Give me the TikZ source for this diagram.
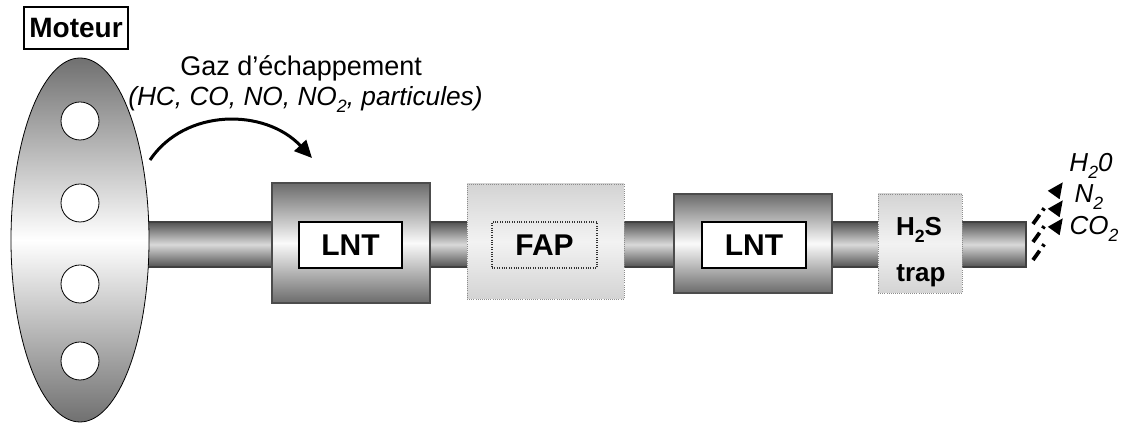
\documentclass[tikz,border=0pt]{standalone}
\usepackage{fontspec}
\usepackage{graphicx}
\setmainfont{Liberation Sans}
\usetikzlibrary{shapes.geometric,arrows.meta}
\newcommand\sbs[1]{\raisebox{-0.26em}{\scalebox{0.68}{#1}}}
\tikzset{
  pipe/.style={rectangle, inner sep=0pt, draw=black!75, line width=0.8pt,
    top color=black!68, bottom color=black!68, middle color=black!15},
  engine/.style={ellipse, inner sep=0pt, draw=black, line width=0.6pt,
    top color=black!56, bottom color=black!56, middle color=white},
  hole/.style={circle, inner sep=0pt, draw=black, line width=0.6pt, fill=white,
    minimum size=28.5pt},
  darkcat/.style={rectangle, inner sep=0pt, draw=black!70, line width=0.8pt,
    top color=black!58, bottom color=black!58, middle color=black!2},
  lightcat/.style={rectangle, inner sep=0pt, draw=black!45, densely dotted, line width=0.6pt,
    top color=black!17, bottom color=black!17, middle color=black!5},
  tag/.style={rectangle, inner sep=0pt, draw=black, line width=0.8pt, fill=white,
    font=\fontsize{22.5}{27}\selectfont\bfseries},
  dottag/.style={rectangle, inner sep=0pt, draw=black!80, densely dotted, line width=0.8pt,
    font=\fontsize{22.5}{27}\selectfont\bfseries},
  bigtxt/.style={inner sep=0pt, font=\fontsize{20.25}{24}\selectfont},
  outtxt/.style={inner sep=0pt, anchor=base, font=\fontsize{19.5}{23}\selectfont\itshape},
  trtxt/.style={inner sep=0pt, anchor=base, font=\fontsize{19.5}{23}\selectfont\bfseries},
  flow/.style={line width=2.25pt, -{Triangle[length=13pt,width=12pt]}},
  outflow/.style={line width=2.8pt, dash pattern=on 8.5pt off 4pt on 2pt off 30pt,
    -{Triangle[length=12pt,width=10pt]}},
}
\begin{document}
\begin{tikzpicture}[x=0.75pt,y=-0.75pt]
\useasboundingbox (0,0) rectangle (1122,423);
% pipe
\node[pipe, minimum width=709.5pt, minimum height=33.75pt] (pipe) at (553,244.5) {};
% engine
\node[engine, minimum width=103.5pt, minimum height=273pt] (engine) at (80,240) {};
\node[hole] (c1) at (80,121) {};
\node[hole] (c2) at (80,203) {};
\node[hole] (c3) at (80,284) {};
\node[hole] (c4) at (80,361) {};
\node[tag, minimum width=78pt, minimum height=31.5pt, font=\fontsize{21}{25}\selectfont\bfseries] (moteur) at (76,28) {Moteur};
% catalysts
\node[darkcat, minimum width=118.5pt, minimum height=90pt] (lnt1) at (351,243) {};
\node[tag, minimum width=77.25pt, minimum height=34.5pt] (lnt1t) at (350.5,245) {LNT};
\node[lightcat, minimum width=117.75pt, minimum height=86.25pt] (fap) at (545.5,241.5) {};
\node[dottag, minimum width=78.75pt, minimum height=34.5pt] (fapt) at (544.5,245) {FAP};
\node[darkcat, minimum width=118.5pt, minimum height=74.25pt] (lnt2) at (753,243.5) {};
\node[tag, minimum width=78pt, minimum height=34.5pt] (lnt2t) at (754,245) {LNT};
\node[lightcat, minimum width=63pt, minimum height=74.25pt] (h2s) at (920,243.5) {};
\node[trtxt] (h2st) at (919,236) {H\sbs{2}S};
\node[trtxt] (trapt) at (921,282) {trap};
% gas labels
\node[bigtxt, anchor=base west] (gaz) at (180,76) {Gaz d’échappement};
\node[bigtxt, anchor=base west, font=\fontsize{19.7}{24}\selectfont\itshape] (comp) at (128,106) {(HC, CO, NO, NO\sbs{2}, particules)};
\coordinate (gs) at (150,160);
\coordinate (ge) at (312,158);
\draw[flow] (gs) .. controls (185,108) and (265,108) .. (ge);
% exhaust
\coordinate (t1) at (1033,260); \coordinate (h1) at (1063,218);
\coordinate (t2) at (1033,242); \coordinate (h2) at (1063,200);
\coordinate (t3) at (1033,224); \coordinate (h3) at (1063,182);
\draw[outflow] (t1) -- (h1);
\draw[outflow] (t2) -- (h2);
\draw[outflow] (t3) -- (h3);
\node[outtxt] (h2o) at (1091,172) {H\sbs{2}0};
\node[outtxt] (n2) at (1089,203) {N\sbs{2}};
\node[outtxt] (co2) at (1094,235) {CO\sbs{2}};
\end{tikzpicture}
\end{document}
